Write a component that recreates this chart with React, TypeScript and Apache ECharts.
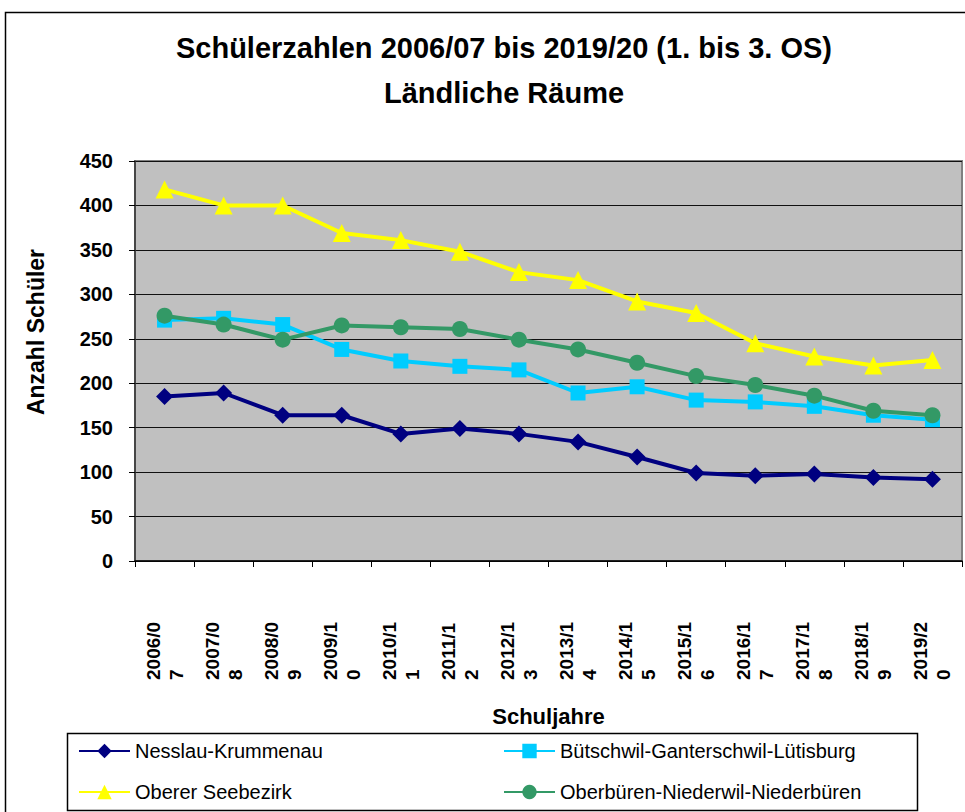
import React, { useEffect, useRef } from "react";
import * as echarts from "echarts";

const categories = [
  "2006/07", "2007/08", "2008/09", "2009/10", "2010/11", "2011/12", "2012/13",
  "2013/14", "2014/15", "2015/16", "2016/17", "2017/18", "2018/19", "2019/20",
];
const nesslau = [185, 189, 164, 164, 143, 149, 143, 134, 117, 99, 96, 98, 94, 92];
const buetschwil = [271, 273, 266, 238, 225, 219, 215, 189, 196, 181, 179, 174, 164, 159];
const obererSee = [418, 400, 400, 369, 361, 348, 325, 316, 292, 279, 245, 230, 220, 226];
const oberbueren = [276, 266, 249, 265, 263, 261, 249, 238, 223, 208, 198, 186, 169, 164];
const seriesNames = [
  "Nesslau-Krummenau",
  "Bütschwil-Ganterschwil-Lütisburg",
  "Oberer Seebezirk",
  "Oberbüren-Niederwil-Niederbüren",
];
const yTicks = { min: 0, max: 450, interval: 50 };

const FONT = "'Liberation Sans', Arial, sans-serif";

export default function App() {
  const ref = useRef<HTMLDivElement>(null);
  useEffect(() => {
    if (!ref.current) return;
    const chart = echarts.init(ref.current, null, { renderer: "svg" });
    const lineSeries = (name: string, data: number[], color: string, symbol: string, size: number) => ({
      name,
      type: "line",
      data,
      symbol,
      symbolSize: size,
      itemStyle: { color },
      lineStyle: { color, width: 4 },
      emphasis: { disabled: true },
    });
    const legendBase = {
      orient: "vertical",
      top: 741,
      padding: 0,
      itemWidth: 51,
      itemHeight: 18,
      itemGap: 21,
      textStyle: { fontFamily: FONT, fontSize: 20, lineHeight: 18, color: "#000" },
    };
    chart.setOption({
      animation: false,
      backgroundColor: "#ffffff",
      textStyle: { fontFamily: FONT },
      title: {
        text: "Schülerzahlen 2006/07 bis 2019/20 (1. bis 3. OS)\nLändliche Räume",
        left: 499,
        top: 20,
        textAlign: "center",
        textStyle: {
          fontFamily: FONT,
          fontWeight: "bold",
          fontSize: 29,
          lineHeight: 45,
          color: "#000",
        },
      },
      graphic: [
        {
          type: "rect",
          shape: { x: 5.5, y: 12.5, width: 980, height: 820 },
          style: { fill: "none", stroke: "#000", lineWidth: 1.5 },
          silent: true,
        },
        {
          type: "rect",
          shape: { x: 67.5, y: 733.5, width: 850, height: 77 },
          style: { fill: "none", stroke: "#000", lineWidth: 1.5 },
          silent: true,
        },
      ],
      legend: [
        { ...legendBase, data: [seriesNames[0], seriesNames[2]], left: 78 },
        { ...legendBase, data: [seriesNames[1], seriesNames[3]], left: 503 },
      ],
      grid: {
        left: 135,
        top: 161,
        right: 3,
        bottom: 251,
        show: true,
        backgroundColor: "#C0C0C0",
        borderColor: "#808080",
        borderWidth: 2,
      },
      xAxis: {
        type: "category",
        data: categories,
        boundaryGap: true,
        name: "Schuljahre",
        nameLocation: "middle",
        nameGap: 144,
        nameTextStyle: { fontFamily: FONT, fontWeight: "bold", fontSize: 22, color: "#000" },
        axisLine: { lineStyle: { color: "#000", width: 1.5 } },
        axisTick: { show: true, length: 6, alignWithLabel: false, lineStyle: { color: "#000" } },
        axisLabel: {
          interval: 0,
          rotate: 90,
          margin: 61,
          formatter: (v: string) => `{a|${v.slice(0, 6)}}\n{a|${v.slice(6)}}`,
          rich: {
            a: {
              width: 58,
              align: "left",
              fontFamily: FONT,
              fontWeight: "bold",
              fontSize: 19,
              lineHeight: 23,
              color: "#000",
            },
          },
        },
      },
      yAxis: {
        type: "value",
        min: yTicks.min,
        max: yTicks.max,
        interval: yTicks.interval,
        name: "Anzahl Schüler",
        nameLocation: "middle",
        nameGap: 88,
        nameTextStyle: {
          fontFamily: FONT,
          fontWeight: "bold",
          fontSize: 23,
          color: "#000",
          padding: [0, 0, 0, 58],
        },
        axisLine: { show: true, lineStyle: { color: "#333", width: 1.5 } },
        axisTick: { show: true, length: 6, lineStyle: { color: "#000" } },
        axisLabel: {
          margin: 22,
          fontFamily: FONT,
          fontWeight: "bold",
          fontSize: 20,
          color: "#000",
        },
        splitLine: { show: true, lineStyle: { color: "#111", width: 1 } },
      },
      series: [
        lineSeries(seriesNames[0], nesslau, "#000080", "diamond", 17),
        lineSeries(seriesNames[1], buetschwil, "#00CCFF", "rect", 15),
        lineSeries(seriesNames[2], obererSee, "#FFFF00", "triangle", 18),
        lineSeries(seriesNames[3], oberbueren, "#339966", "circle", 16),
      ],
    });
    return () => chart.dispose();
  }, []);
  return (
    <div
      ref={ref}
      style={{ position: "absolute", left: 0, top: 0, width: 965, height: 812 }}
    />
  );
}
